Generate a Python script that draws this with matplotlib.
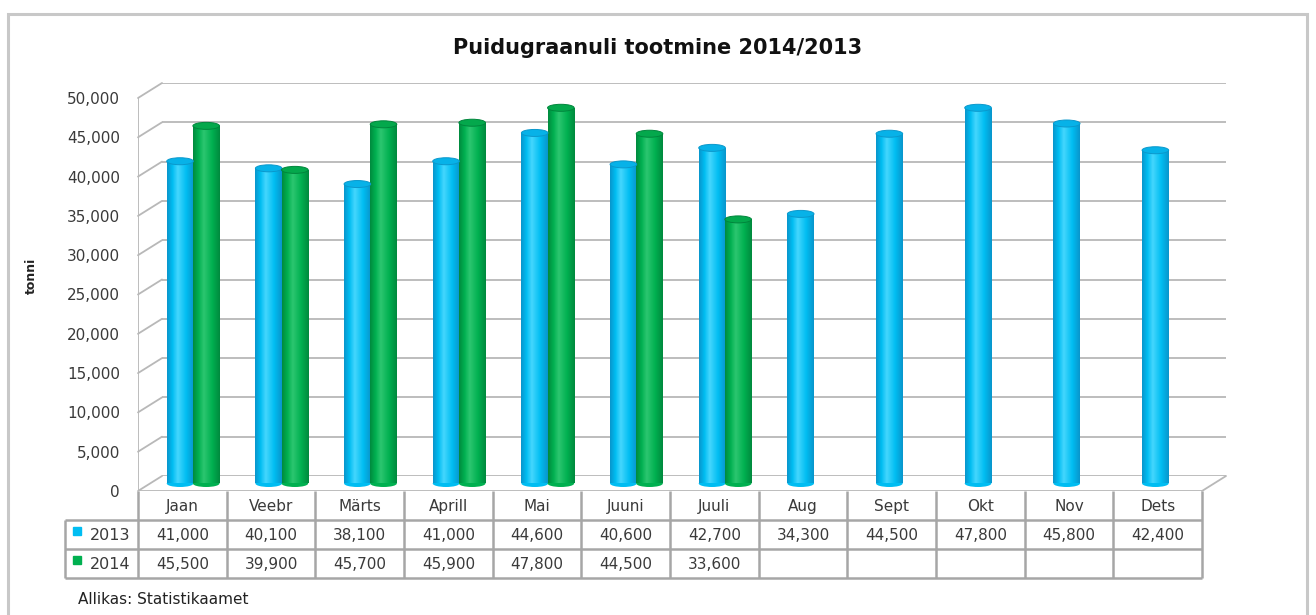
import matplotlib
matplotlib.use("Agg")
import matplotlib.pyplot as plt
import numpy as np
from matplotlib.patches import Rectangle, Ellipse
from matplotlib.colors import LinearSegmentedColormap
from matplotlib.patches import ConnectionPatch

# ---- data ----
months = ["Jaan", "Veebr", "Märts", "Aprill", "Mai", "Juuni", "Juuli",
          "Aug", "Sept", "Okt", "Nov", "Dets"]
series_names = ["2013", "2014"]
values_2013 = [41000, 40100, 38100, 41000, 44600, 40600, 42700,
               34300, 44500, 47800, 45800, 42400]
values_2014 = [45500, 39900, 45700, 45900, 47800, 44500, 33600]
yticks = [0, 5000, 10000, 15000, 20000, 25000, 30000, 35000, 40000, 45000, 50000]
title = "Puidugraanuli tootmine 2014/2013"
ylabel = "tonni"
source = "Allikas: Statistikaamet"

# ---- layout helpers (pixels) ----
W, H = 1316, 615
fig = plt.figure(figsize=(W / 100, H / 100), dpi=100)
plt.rcParams['font.family'] = ['DejaVu Sans']

def rect_px(left, top, right, bottom):
    return [left / W, 1 - bottom / H, (right - left) / W, (bottom - top) / H]

FL, FR, FB, FT = 138, 1202, 491, 98          # front plane
DEPTH = (24, 15)                             # back wall offset (px)
MID = (11, 7.5)                              # bar depth offset (px)
ncat = len(months)
xlim = (-0.5, ncat - 0.5)
ylim = (0, 50000)
grid_col = "#b8b8b8"
grid_lw = 1.3
txt_col = "#3a3a3a"

# back wall axes
ax_wall = fig.add_axes(rect_px(FL + DEPTH[0], FT - DEPTH[1], FR + DEPTH[0], FB - DEPTH[1]))
ax_wall.set_xlim(*xlim); ax_wall.set_ylim(*ylim); ax_wall.axis("off")
ax_wall.hlines(yticks, xlim[0], xlim[1], color=grid_col, lw=grid_lw, zorder=0)

# front axes (ticks, floor edge)
ax_front = fig.add_axes(rect_px(FL, FT, FR, FB))
ax_front.set_xlim(*xlim); ax_front.set_ylim(*ylim)
ax_front.patch.set_alpha(0)
for s in ax_front.spines.values():
    s.set_visible(False)
ax_front.set_xticks([])
ax_front.set_yticks(yticks)
ax_front.set_yticklabels([f"{v:,}" for v in yticks], fontsize=11, color=txt_col)
ax_front.tick_params(axis="y", length=0, pad=13)
ax_front.vlines(xlim[0], 0, ylim[1], color=grid_col, lw=grid_lw)
ax_front.hlines(0, xlim[0], xlim[1], color=grid_col, lw=grid_lw)
ax_front.set_ylabel(ylabel, fontsize=9, fontweight="bold", color="#222222")
ax_front.yaxis.set_label_coords((38 - FL) / (FR - FL), (FB - 276) / (FB - FT))

# side wall slants
for v in yticks:
    con = ConnectionPatch(xyA=(xlim[0], v), coordsA=ax_front.transData,
                          xyB=(xlim[0], v), coordsB=ax_wall.transData,
                          color=grid_col, lw=grid_lw)
    fig.add_artist(con)
con = ConnectionPatch(xyA=(xlim[1], 0), coordsA=ax_front.transData,
                      xyB=(xlim[1], 0), coordsB=ax_wall.transData,
                      color=grid_col, lw=grid_lw)
fig.add_artist(con)

# bar axes (mid depth)
ax_bar = fig.add_axes(rect_px(FL + MID[0], FT - MID[1], FR + MID[0], FB - MID[1]))
ax_bar.set_xlim(*xlim); ax_bar.set_ylim(*ylim); ax_bar.axis("off")

px_per_unit_y = (FB - FT) / (ylim[1] - ylim[0])
ell_h = 7 / px_per_unit_y
bar_w = 0.30
offsets = [-0.15, 0.145]
palettes = [
    dict(dark="#0996cc", base="#00bdf2", light="#45d6fd", top="#07b2e8", edge="#0a98cc"),
    dict(dark="#008a3e", base="#00b050", light="#2cc670", top="#04a84c", edge="#00863c"),
]
grad = np.linspace(0, 1, 64).reshape(1, -1)
for si, vals in enumerate([values_2013, values_2014]):
    p = palettes[si]
    cmap = LinearSegmentedColormap.from_list(
        f"c{si}", [(0, p["dark"]), (0.2, p["base"]), (0.4, p["light"]),
                   (0.72, p["base"]), (1, p["dark"])])
    for i, v in enumerate(vals):
        xc = i + offsets[si]
        x0 = xc - bar_w / 2
        # bottom rounding
        ax_bar.add_patch(Ellipse((xc, 0), bar_w, ell_h, facecolor=p["base"],
                                 edgecolor="none", zorder=1, clip_on=False))
        clip = Rectangle((x0, 0), bar_w, v, transform=ax_bar.transData)
        im = ax_bar.imshow(grad, cmap=cmap, extent=[x0, x0 + bar_w, 0, v],
                           aspect="auto", zorder=2, interpolation="bilinear")
        im.set_clip_path(clip)
        ax_bar.add_patch(Ellipse((xc, v), bar_w, ell_h, facecolor=p["top"],
                                 edgecolor=p["edge"], lw=0.7, zorder=3, clip_on=False))
ax_bar.set_xlim(*xlim); ax_bar.set_ylim(*ylim)

# data table
col_px = (FR - FL) / ncat
lab_w = (FL - 65) / col_px
TB = 578
ax_tab = fig.add_axes(rect_px(65, FB, FR, TB))
ax_tab.set_xlim(xlim[0] - lab_w, xlim[1]); ax_tab.set_ylim(3, 0); ax_tab.axis("off")
tcol = "#a6a6a6"
ax_tab.hlines([1, 2, 3], xlim[0] - lab_w, xlim[1], color=tcol, lw=1.8, clip_on=False)
ax_tab.vlines([i - 0.5 for i in range(ncat + 1)], 0, 3, color=tcol, lw=1.8, clip_on=False)
ax_tab.vlines(xlim[0] - lab_w, 1, 3, color=tcol, lw=1.8, clip_on=False)
for i, m in enumerate(months):
    ax_tab.text(i, 0.55, m, ha="center", va="center", fontsize=11, color=txt_col)
for si, vals in enumerate([values_2013, values_2014]):
    row = si + 1.5
    for i, v in enumerate(vals):
        ax_tab.text(i, row + 0.05, f"{v:,}", ha="center", va="center", fontsize=11, color=txt_col)
    ax_tab.plot(xlim[0] - lab_w + 0.14, row - 0.12, marker="s", ms=5.5,
                color=palettes[si]["base"], clip_on=False)
    ax_tab.text(xlim[0] - lab_w + 0.28, row + 0.05, series_names[si], ha="left",
                va="center", fontsize=11.5, color=txt_col)

# title, source, frame
fig.text(658 / W, 1 - 48 / H, title, ha="center", va="center", fontsize=15,
         fontweight="bold", color="#111111")
fig.text(78 / W, 1 - 599 / H, source, ha="left", va="center", fontsize=11, color="#222222")
fig.add_artist(Rectangle((8 / W, -0.05), (1307 - 8) / W, 1.05 - 14 / H,
                         transform=fig.transFigure, fill=False,
                         edgecolor="#c8c8c8", lw=2.2))

fig.savefig("out.png", dpi=100)
